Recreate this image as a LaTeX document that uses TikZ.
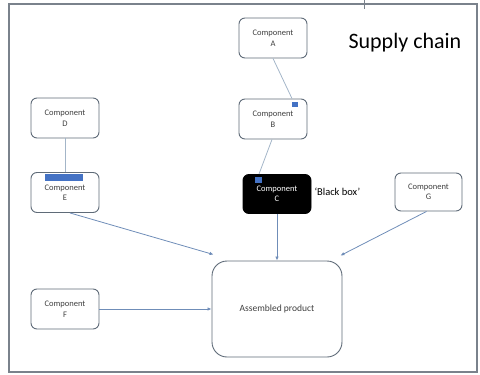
\documentclass[tikz,border=0pt]{standalone}
\usepackage{fontspec}
\setmainfont{Carlito}
\usetikzlibrary{arrows.meta}
\definecolor{FrameGray}{HTML}{7A828C}
\definecolor{BoxEdge}{HTML}{5F6B78}
\definecolor{LinkPale}{HTML}{A3B5C8}
\definecolor{LinkBlue}{HTML}{6F8DB8}
\definecolor{TagBlue}{HTML}{4472C4}

\begin{document}
\begin{tikzpicture}[x=1pt,y=-1pt,
  comp/.style={draw=BoxEdge,line width=0.9pt,rounded corners=6pt,fill=white,
    minimum width=68pt,minimum height=40pt,align=center,
    font=\fontsize{8.5}{10.5}\selectfont,text=black!75},
  link/.style={LinkPale,line width=0.8pt},
  feed/.style={LinkBlue,line width=0.8pt,-{Latex[length=4pt,width=3.5pt]}}]
\useasboundingbox (0,0) rectangle (480,375);
% frame of the slide, with the stray tick on top
\draw[FrameGray,line width=1.6pt] (9,4) rectangle (477,372);
\draw[FrameGray,line width=0.8pt] (364,0) -- (364,9);
\node[anchor=west,font=\fontsize{22}{24}\selectfont] (title) at (345,43) {Supply chain};

% upstream chain A -> B -> C
\node[comp] (compA) at (273,38) {Component\\A};
\node[comp] (compB) at (273,119) {Component\\B};
\node[comp,fill=black,draw=black,text=white,minimum height=39pt] (compC) at (277,194) {Component\\C};
\node[anchor=west,font=\fontsize{10.5}{12}\selectfont] (blackbox) at (311,192) {`Black box'};
\fill[TagBlue] (292,102) rectangle (298,107);
\fill[TagBlue] (255,177) rectangle (262,183);

% left column D -> E, and F
\node[comp] (compD) at (65,118) {Component\\D};
\node[comp] (compE) at (65,192.5) {Component\\E};
\fill[TagBlue] (45,174) rectangle (83,181);
\node[comp] (compF) at (65,309) {Component\\F};
\node[comp,minimum width=67pt,minimum height=38pt] (compG) at (428.5,192) {Component\\G};

\node[comp,rounded corners=15pt,minimum width=130pt,minimum height=96pt,
  font=\fontsize{9.5}{11}\selectfont] (product) at (277,309) {Assembled product};

\draw[link] (compA.south) -- ([xshift=19pt]compB.north);
\draw[link] ([xshift=-1pt]compB.south) -- ([xshift=-18pt]compC.north);
\draw[link] (compD.south) -- (compE.north);

\draw[feed] ([xshift=5pt]compE.south) -- ([xshift=2pt,yshift=6pt]product.north west);
\draw[feed] (compC.south) -- (product.north);
\draw[feed] ([xshift=-2pt]compG.south) -- ([xshift=-2pt,yshift=5pt]product.north east);
\draw[feed] (compF.east) -- (product.west);
\end{tikzpicture}
\end{document}
